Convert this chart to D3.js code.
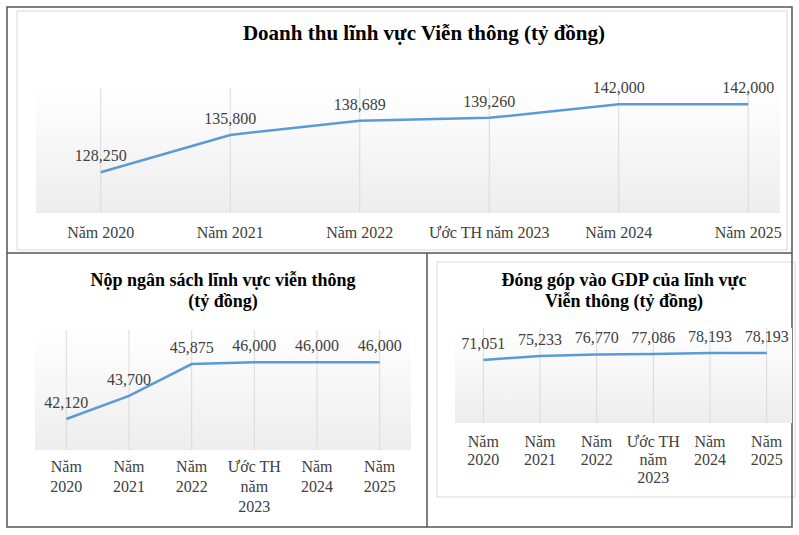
<!DOCTYPE html>
<html>
<head>
<meta charset="utf-8">
<script src="https://cdn.jsdelivr.net/npm/d3@7"></script>
<style>
  body { margin: 0; background: #fff; }
  text { font-family: "Liberation Serif", "DejaVu Serif", serif; }
</style>
</head>
<body>
<svg id="chart" width="799" height="535"></svg>
<script>
// categories and series
const years = ["Năm 2020", "Năm 2021", "Năm 2022", "Ước TH năm 2023", "Năm 2024", "Năm 2025"];
const yearsWrapped = [["Năm", "2020"], ["Năm", "2021"], ["Năm", "2022"], ["Ước TH", "năm", "2023"], ["Năm", "2024"], ["Năm", "2025"]];
const revenue = [128250, 135800, 138689, 139260, 142000, 142000];
const budget = [42120, 43700, 45875, 46000, 46000, 46000];
const gdp = [71051, 75233, 76770, 77086, 78193, 78193];

const svg = d3.select("#chart");
const fmt = d3.format(",");

// gradient for the plot areas
const grad = svg.append("defs").append("linearGradient")
  .attr("id", "bg").attr("x1", 0).attr("y1", 0).attr("x2", 0).attr("y2", 1);
grad.append("stop").attr("offset", "0%").attr("stop-color", "#ffffff");
grad.append("stop").attr("offset", "100%").attr("stop-color", "#ededed");

// panel frames
svg.append("rect").attr("x", 17).attr("y", 11).attr("width", 770).attr("height", 239)
  .attr("fill", "#fff").attr("stroke", "#d9d9d9");
svg.append("rect").attr("x", 437).attr("y", 262).attr("width", 358).attr("height", 235)
  .attr("fill", "#fff").attr("stroke", "#d9d9d9");
svg.append("rect").attr("x", 7).attr("y", 7).attr("width", 785).attr("height", 520)
  .attr("fill", "none").attr("stroke", "#555").attr("stroke-width", 1.5);
svg.append("line").attr("x1", 7).attr("x2", 792).attr("y1", 253).attr("y2", 253)
  .attr("stroke", "#555").attr("stroke-width", 1.5);
svg.append("line").attr("x1", 427).attr("x2", 427).attr("y1", 253).attr("y2", 527)
  .attr("stroke", "#555").attr("stroke-width", 1.5);

function drawChart(cfg) {
  const x = d3.scalePoint().domain(years).range([cfg.x0, cfg.x1]).padding(0.5);
  const y = d3.scaleLinear().domain(cfg.domain).range([cfg.bottom, cfg.top]);
  const g = svg.append("g");
  const bgRight = cfg.bgRight || cfg.x1;

  // plot background
  g.append("rect")
    .attr("x", cfg.x0).attr("y", cfg.top)
    .attr("width", bgRight - cfg.x0).attr("height", cfg.bottom - cfg.top)
    .attr("fill", "url(#bg)");

  // vertical gridlines
  g.selectAll(".grid").data(years).enter().append("line")
    .attr("x1", (d) => x(d)).attr("x2", (d) => x(d))
    .attr("y1", cfg.top).attr("y2", cfg.bottom)
    .attr("stroke", "#dadada");

  // line
  g.append("path")
    .datum(cfg.values)
    .attr("fill", "none")
    .attr("stroke", "#5b9bd5")
    .attr("stroke-width", 2.5)
    .attr("d", d3.line().x((d, i) => x(years[i])).y((d) => y(d)));

  // value labels
  g.selectAll(".val").data(cfg.values).enter().append("text")
    .attr("x", (d, i) => x(years[i]))
    .attr("y", (d) => y(d) - 11)
    .attr("text-anchor", "middle")
    .style("font-size", "16px").style("fill", "#404040")
    .text((d) => fmt(d));

  // category labels
  const labels = cfg.wrap ? yearsWrapped : years.map((d) => [d]);
  labels.forEach((lines, i) => {
    const t = g.append("text")
      .attr("x", x(years[i])).attr("y", cfg.labelY)
      .attr("text-anchor", "middle")
      .style("font-size", "16px").style("fill", "#404040");
    lines.forEach((l, j) => {
      t.append("tspan").attr("x", x(years[i])).attr("dy", j === 0 ? 0 : cfg.lineH).text(l);
    });
  });

  // title
  const tt = svg.append("text")
    .attr("x", cfg.titleX).attr("y", cfg.titleY)
    .attr("text-anchor", "middle")
    .style("font-size", cfg.titleSize).style("font-weight", "bold").style("fill", "#000");
  cfg.title.forEach((l, j) => {
    tt.append("tspan").attr("x", cfg.titleX).attr("dy", j === 0 ? 0 : 21).text(l);
  });
}

drawChart({
  values: revenue, domain: [120000, 145300],
  x0: 36, x1: 813, bgRight: 780, top: 88, bottom: 213,
  labelY: 238, wrap: false,
  title: ["Doanh thu lĩnh vực Viễn thông (tỷ đồng)"], titleX: 424, titleY: 40, titleSize: "21px"
});

drawChart({
  values: budget, domain: [40000, 48200],
  x0: 35, x1: 411, top: 330, bottom: 450,
  labelY: 472, wrap: true, lineH: 20,
  title: ["Nộp ngân sách lĩnh vực viễn thông", "(tỷ đồng)"], titleX: 223, titleY: 286, titleSize: "18px"
});

drawChart({
  values: gdp, domain: [6800, 103700],
  x0: 455, x1: 795, bgRight: 792, top: 328, bottom: 423,
  labelY: 447, wrap: true, lineH: 18,
  title: ["Đóng góp vào GDP của lĩnh vực", "Viễn thông (tỷ đồng)"], titleX: 624, titleY: 286, titleSize: "18px"
});
</script>
</body>
</html>
